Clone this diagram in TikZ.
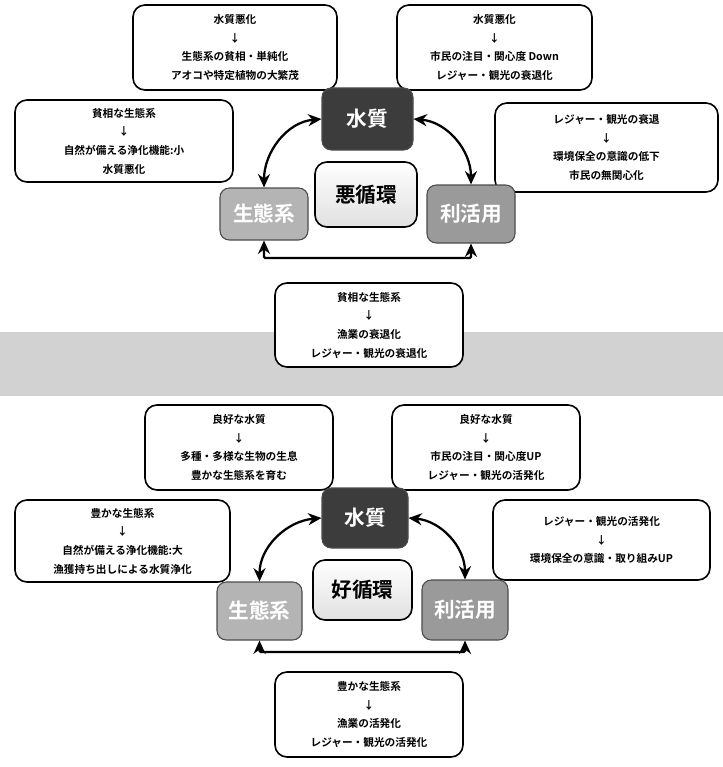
\documentclass[tikz,border=0pt]{standalone}
\usepackage{fontspec}
\newfontfamily\jp{Noto Sans CJK JP}[BoldFont={Noto Sans CJK JP Bold}]
\usetikzlibrary{arrows.meta}
\definecolor{darkq}{HTML}{3C3C3C}
\definecolor{lightq}{HTML}{B4B4B4}
\definecolor{midq}{HTML}{9A9A9A}
\definecolor{bandq}{HTML}{D2D2D2}
\tikzset{
  infobox/.style={draw=black, line width=1.2pt, rounded corners=9pt, fill=white,
    align=center, inner sep=2pt,
    font=\jp\bfseries\fontsize{8}{14}\selectfont},
  keybox/.style={draw=black!70, line width=0.8pt, rounded corners=7pt,
    text=white, font=\jp\bfseries\fontsize{15.5}{18}\selectfont},
  cyclebox/.style={draw=black, line width=1.2pt, rounded corners=9pt,
    top color=white, bottom color=black!12,
    font=\jp\bfseries\fontsize{15.5}{18}\selectfont},
  link/.style={line width=1.7pt, {Stealth[length=10pt,width=9pt]}-{Stealth[length=10pt,width=9pt]}}
}
\begin{document}
\begin{tikzpicture}[x=0.75pt,y=-0.75pt]
\useasboundingbox (0,0) rectangle (723,767);
% gray band separating the two halves
\fill[bandq] (0,332) rectangle (723,396);

% ===== top half: vicious circle =====
\node[infobox, minimum width=153pt, minimum height=63.75pt] (a1) at (235,47.5)
  {水質悪化\\↓\\生態系の貧相・単純化\\アオコや特定植物の大繁茂};
\node[infobox, minimum width=146.25pt, minimum height=63.75pt] (b1) at (494.5,47.5)
  {水質悪化\\↓\\市民の注目・関心度 Down\\レジャー・観光の衰退化};
\node[infobox, minimum width=163.5pt, minimum height=61.5pt] (c1) at (124,141)
  {貧相な生態系\\↓\\自然が備える浄化機能:小\\水質悪化};
\node[infobox, minimum width=167.25pt, minimum height=66.75pt] (d1) at (606.5,147.5)
  {レジャー・観光の衰退\\↓\\環境保全の意識の低下\\市民の無関心化};
\node[keybox, fill=darkq, minimum width=68.25pt, minimum height=46.5pt] (q1) at (367.5,119) {水質};
\node[keybox, fill=lightq, minimum width=66pt, minimum height=39pt] (s1) at (264,214) {生態系};
\node[keybox, fill=midq, minimum width=66pt, minimum height=43.5pt] (u1) at (471,214) {利活用};
\node[cyclebox, minimum width=76.5pt, minimum height=48.75pt] (v1) at (366,194.5) {悪循環};
\node[infobox, minimum width=141pt, minimum height=63pt] (e1) at (369,325)
  {貧相な生態系\\↓\\漁業の衰退化\\レジャー・観光の衰退化};
\draw[link] (q1.west) to[out=185,in=90] (s1.north);
\draw[link] (q1.east) to[out=-5,in=90] (u1.north);
\coordinate (l1) at (s1.south |- 0,258);
\coordinate (r1) at (u1.south |- 0,258);
\draw[link, rounded corners=1pt] (s1.south) -- (l1) -- (r1) -- (u1.south);

% ===== bottom half: virtuous circle =====
\node[infobox, minimum width=141pt, minimum height=63.75pt] (a2) at (239,447.5)
  {良好な水質\\↓\\多種・多様な生物の生息\\豊かな生態系を育む};
\node[infobox, minimum width=141pt, minimum height=63.75pt] (b2) at (486,447.5)
  {良好な水質\\↓\\市民の注目・関心度UP\\レジャー・観光の活発化};
\node[infobox, minimum width=161.25pt, minimum height=61.5pt] (c2) at (122.5,541)
  {豊かな生態系\\↓\\自然が備える浄化機能:大\\漁獲持ち出しによる水質浄化};
\node[infobox, minimum width=162.75pt, minimum height=60pt] (d2) at (601.5,540)
  {レジャー・観光の活発化\\↓\\環境保全の意識・取り組みUP};
\node[keybox, fill=darkq, minimum width=64.5pt, minimum height=45pt] (q2) at (365,518) {水質};
\node[keybox, fill=lightq, minimum width=63.75pt, minimum height=43.5pt] (s2) at (259.5,611) {生態系};
\node[keybox, fill=midq, minimum width=64.5pt, minimum height=45pt] (u2) at (465,610) {利活用};
\node[cyclebox, minimum width=74.25pt, minimum height=45pt] (v2) at (362.5,590) {好循環};
\node[infobox, minimum width=141pt, minimum height=63.75pt] (e2) at (369,714.5)
  {豊かな生態系\\↓\\漁業の活発化\\レジャー・観光の活発化};
\draw[link] (q2.west) to[out=185,in=90] (s2.north);
\draw[link] (q2.east) to[out=-5,in=90] (u2.north);
\coordinate (l2) at (s2.south |- 0,652);
\coordinate (r2) at (u2.south |- 0,652);
\draw[link, rounded corners=1pt] (s2.south) -- (l2) -- (r2) -- (u2.south);
\end{tikzpicture}
\end{document}
